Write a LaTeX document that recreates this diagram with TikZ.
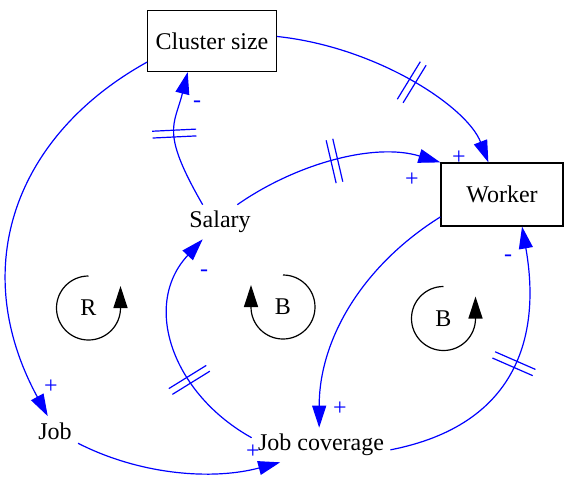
\documentclass[tikz,border=0pt]{standalone}
\usepackage{fontspec}
\setmainfont{Liberation Serif}
\usetikzlibrary{arrows.meta, decorations.markings}

\begin{document}
\begin{tikzpicture}[
    x=0.5pt, y=0.5pt,
    font=\rmfamily\fontsize{12}{14}\selectfont,
    stockbox/.style={rectangle, draw, line width=0.6pt, inner sep=4pt},
    auxvar/.style={rectangle, inner sep=3pt},
    polarity/.style={text=blue, inner sep=0pt},
    looplabel/.style={inner sep=0pt},
    link/.style={blue, line width=0.6pt, -{Triangle[length=11pt, width=7pt]}},
    looparrow/.style={black, line width=0.6pt, -{Triangle[length=11pt, width=7pt]}},
    delay/.style={postaction={decorate}, decoration={markings, mark=at position #1 with {
        \draw[blue, line width=0.6pt, -] (-1.7pt,-11pt) -- (-1.7pt,11pt) (1.7pt,-11pt) -- (1.7pt,11pt);}}}
]
    \useasboundingbox (0,0) rectangle (564,479);

    % Stocks
    \node[stockbox, minimum width=64pt, minimum height=30.5pt] (cluster) at (212,438) {Cluster size};
    \node[stockbox, minimum width=61pt, minimum height=31.5pt] (worker) at (502,284.5) {Worker};

    % Variables
    \node[auxvar] (salary) at (220,257) {Salary};
    \node[auxvar] (job) at (55,48) {Job};
    \node[auxvar] (jobcov) at (321,34) {Job coverage};

    % Loops
    \node[looplabel] (loopR) at (88.5,171) {R};
    \node[looplabel] (loopB1) at (283,172) {B};
    \node[looplabel] (loopB2) at (443.5,160.5) {B};
    \draw[looparrow] (loopR.center) ++(0,32) arc[start angle=90, end angle=360, radius=16pt] -- ++(0,22);
    \draw[looparrow] (loopB1.center) ++(0,32) arc[start angle=90, end angle=-180, radius=16pt] -- ++(0,22);
    \draw[looparrow] (loopB2.center) ++(0,32) arc[start angle=90, end angle=360, radius=16pt] -- ++(0,22);

    % Links
    \draw[link, delay=0.55] (salary.135) .. controls +(120:85) and +(256:55) .. (cluster.232);
    \draw[link, delay=0.5] (salary.45) .. controls +(35:70) and +(163:70) .. (worker.north west);
    \draw[link, delay=0.56] (cluster.4) .. controls +(-6:100) and +(111:60) .. (worker.113);
    \draw[link] (cluster.198) .. controls +(209:150) and +(118.5:170) .. (job.116);
    \draw[link] (job.-28) .. controls +(-27:70) and +(195:70) .. (jobcov.203);
    \draw[link, delay=0.36] (jobcov.174) .. controls +(151:90) and +(227:90) .. (salary.225);
    \draw[link] (worker.200) .. controls +(212:90) and +(90:90) .. (jobcov.96);
    \draw[link, delay=0.53] (jobcov.-4) .. controls +(11:130) and +(280:110) .. (worker.302);

    % Polarities
    \node[polarity] (p1) at (197,375) {-};
    \node[polarity] (p2) at (412,299) {+};
    \node[polarity] (p3) at (459,321) {+};
    \node[polarity] (p4) at (51,92) {+};
    \node[polarity] (p5) at (253,27) {+};
    \node[polarity] (p6) at (204,206) {-};
    \node[polarity] (p7) at (340,70) {+};
    \node[polarity] (p8) at (508,221) {-};
\end{tikzpicture}
\end{document}
